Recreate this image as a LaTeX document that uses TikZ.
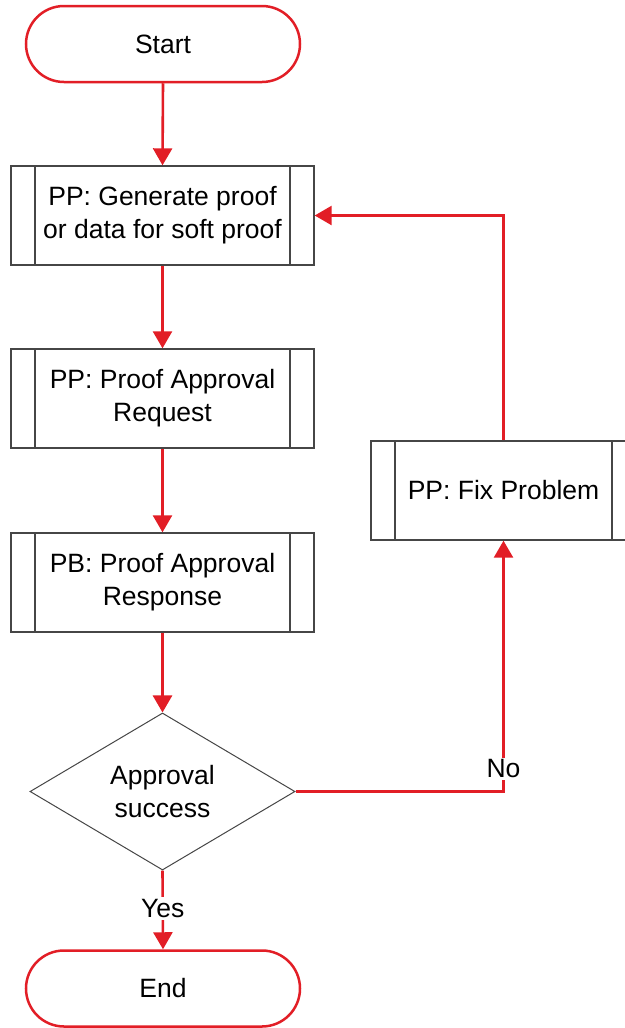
\documentclass[tikz,border=0pt]{standalone}
\usepackage{fontspec}
\setmainfont{Liberation Sans}
\usetikzlibrary{arrows.meta,shapes.geometric}
\definecolor{fred}{RGB}{226,30,38}
\definecolor{fgray}{RGB}{70,70,70}
\begin{document}
\begin{tikzpicture}[x=1pt,y=-1pt,
  every node/.style={font=\fontsize{26.5}{33}\selectfont, align=center},
  term/.style={draw=fred, line width=2.5pt, rectangle, rounded corners=38pt,
    minimum width=274pt, minimum height=76pt, inner sep=0pt},
  proc/.style={draw=fgray, line width=1.4pt, rectangle, minimum height=99pt, inner sep=0pt,
    path picture={
      \draw[fgray, line width=1.4pt] ([xshift=24pt]path picture bounding box.north west) -- ([xshift=24pt]path picture bounding box.south west);
      \draw[fgray, line width=1.4pt] ([xshift=-24pt]path picture bounding box.north east) -- ([xshift=-24pt]path picture bounding box.south east);
    }},
  decis/.style={draw=fgray, line width=1pt, diamond, minimum width=265pt, minimum height=149pt, inner sep=0pt},
  flow/.style={draw=fred, line width=2.6pt, -{Triangle[length=17pt,width=19pt]}},
  lbl/.style={fill=white, inner sep=2pt}
]
\useasboundingbox (0,0) rectangle (624,1028);
\fill[white] (0,0) rectangle (624,1028);

\node[term] (start) at (163,44) {Start};
\node[proc, minimum width=303pt] (gen) at (162.5,215.5) {PP: Generate proof\\or data for soft proof};
\node[proc, minimum width=303pt] (req) at (162.5,398.5) {PP: Proof Approval\\Request};
\node[proc, minimum width=303pt] (resp) at (162.5,582.5) {PB: Proof Approval\\Response};
\node[decis] (dec) at (162.5,791.5) {Approval\\success};
\node[proc, minimum width=265pt] (fix) at (503.5,490.5) {PP: Fix Problem};
\node[term] (end) at (163,988.5) {End};

\draw[flow] (start.south) -- (gen.north);
\draw[flow] (gen.south) -- (req.north);
\draw[flow] (req.south) -- (resp.north);
\draw[flow] (resp.south) -- (dec.north);
\draw[flow] (dec.south) -- node[lbl, pos=0.48] (yes) {Yes} (end.north);
\draw[flow] (dec.east) -| node[lbl, pos=0.545] (no) {No} (fix.south);
\draw[flow] (fix.north) |- (gen.east);
\end{tikzpicture}
\end{document}
